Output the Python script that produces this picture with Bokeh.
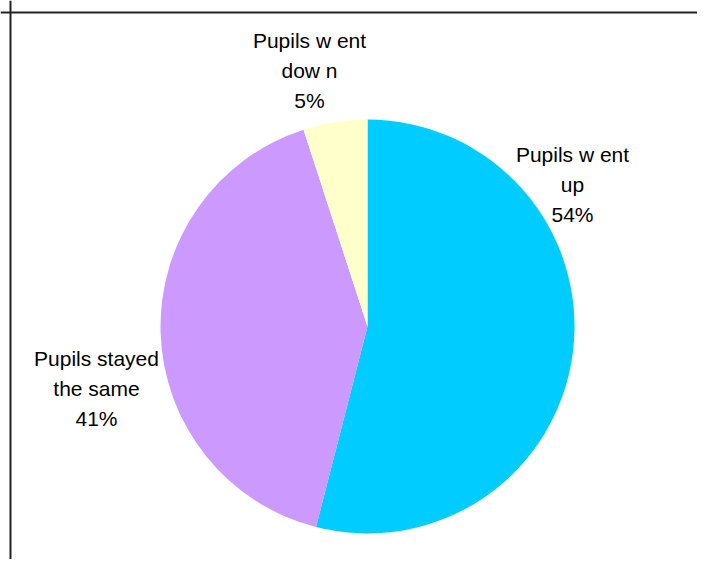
import math
from bokeh.plotting import figure
from bokeh.models import Range1d, Span, ColumnDataSource
from bokeh.core.properties import value
from bokeh.embed import file_html
from bokeh.resources import INLINE

# ---- data ----
categories = ["Pupils w ent\nup", "Pupils stayed\nthe same", "Pupils w ent\ndow n"]
shares = [54, 41, 5]
colors = ["#00CCFF", "#CC99FF", "#FFFFCC"]

# ---- layout (pixel-like data units) ----
W, H = 697, 559
cx, cy, R = 367, 233, 207
label_anchor = [(572, 405), (96, 201), (309, 519)]  # x centre, baseline of first line
line_gap = 30

p = figure(width=W, height=H, output_backend="svg", toolbar_location=None,
           x_range=Range1d(0, W), y_range=Range1d(0, H),
           min_border=0, outline_line_color=None)
p.axis.visible = False
p.grid.visible = False
p.background_fill_color = "white"

total = sum(shares)
starts, ends = [], []
cum = 0.0
for s in shares:
    starts.append(math.pi / 2 - 2 * math.pi * cum / total)
    cum += s
    ends.append(math.pi / 2 - 2 * math.pi * cum / total)

src = ColumnDataSource(dict(start=starts, end=ends, color=colors))
p.wedge(x=cx, y=cy, radius=R, start_angle="start", end_angle="end",
        direction="clock", fill_color="color", line_color=None, source=src)

tx, ty, tt = [], [], []
for cat, s, (ax, ay) in zip(categories, shares, label_anchor):
    lines = cat.split("\n") + [f"{s}%"]
    for i, ln in enumerate(lines):
        tx.append(ax)
        ty.append(ay - i * line_gap)
        tt.append(ln)
p.text(x=tx, y=ty, text=tt, text_align="center", text_baseline="alphabetic",
       text_font=value("Liberation Sans"), text_font_size="21px", text_color="black")

# chart-area border (left and top edges visible)
p.add_layout(Span(location=10, dimension="height", line_color="#222222", line_width=2))
p.add_layout(Span(location=547, dimension="width", line_color="#222222", line_width=2))

open("out.html", "w").write(file_html(p, INLINE))
